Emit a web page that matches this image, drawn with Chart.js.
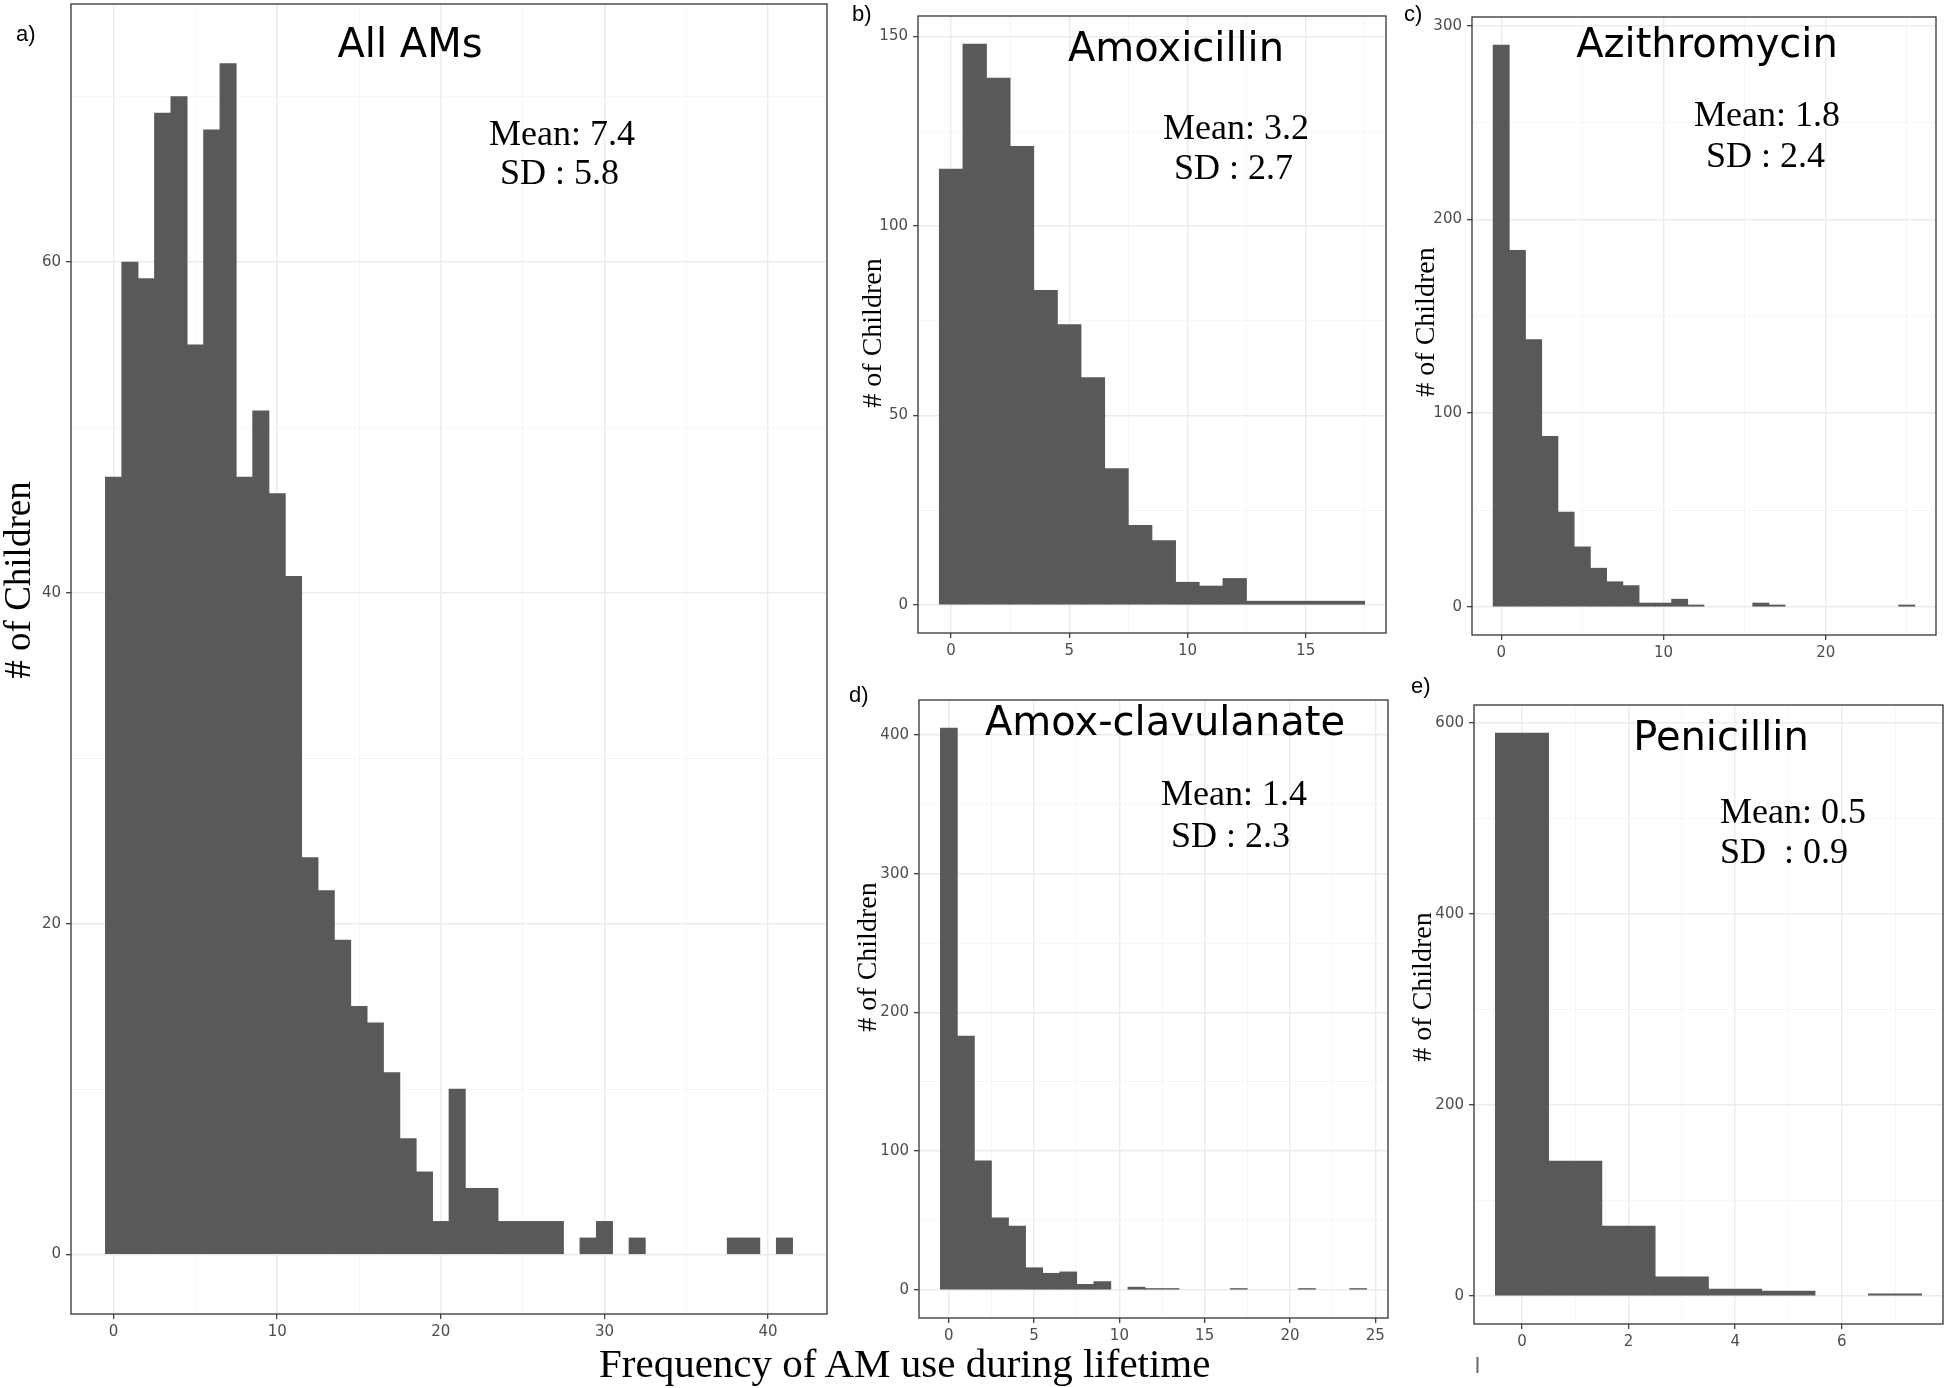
<!DOCTYPE html>
<html><head><meta charset="utf-8">
<script src="https://cdn.jsdelivr.net/npm/chart.js@4.4.1/dist/chart.umd.min.js"></script>
<style>
html,body{margin:0;padding:0;background:#fff;width:1946px;height:1388px;overflow:hidden;position:relative}
canvas{position:absolute}
svg{position:absolute;left:0;top:0}
.ttl{font-family:"DejaVu Sans";font-size:40px;fill:#000}
.stat{font-family:"Liberation Serif";font-size:36px;fill:#000;white-space:pre}
.ylab{font-family:"Liberation Serif";font-size:28px;fill:#000}
.let{font-family:"Liberation Sans";font-size:22px;fill:#000}
</style></head><body>
<script>
// ---- data (counts per integer bin, starting at 0) ----
const countsAll   = [47,60,59,69,70,55,68,72,47,51,46,41,24,22,19,15,14,11,7,5,2,10,4,4,2,2,2,2,0,1,2,0,1,0,0,0,0,0,1,1,0,1];
const countsAmox  = [115,148,139,121,83,74,60,36,21,17,6,5,7,1,1,1,1,1];
const countsAzi   = [290,184,138,88,49,31,20,13,11,2,2,4,1,0,0,0,2,1,0,0,0,0,0,0,0,1];
const countsAmoxC = [405,183,93,52,46,16,12,13,4,6,0,2,1,1,0,0,0,1,0,0,0,1,0,0,1];
const countsPen   = [589,141,73,20,7,5,0,2];

// ---- tick labels ----
const xMajorAll = [0,10,20,30,40],          xMinorAll = [5,15,25,35];
const yMajorAll = [0,20,40,60],             yMinorAll = [10,30,50,70];
const xMajorAmox = [0,5,10,15],             xMinorAmox = [2.5,7.5,12.5,17.5];
const yMajorAmox = [0,50,100,150],          yMinorAmox = [25,75,125];
const xMajorAzi = [0,10,20],                xMinorAzi = [5,15,25];
const yMajorAzi = [0,100,200,300],          yMinorAzi = [50,150,250];
const xMajorAmoxC = [0,5,10,15,20,25],      xMinorAmoxC = [2.5,7.5,12.5,17.5,22.5];
const yMajorAmoxC = [0,100,200,300,400],    yMinorAmoxC = [50,150,250,350];
const xMajorPen = [0,2,4,6],                xMinorPen = [1,3,5,7];
const yMajorPen = [0,200,400,600],          yMinorPen = [100,300,500];

const BAR = '#595959';
const YW = 70, PT = 20, PR = 12, XH = 40;

const framePlugin = {
  id: 'frame',
  afterDraw(chart) {
    const {ctx, chartArea: a} = chart;
    ctx.save();
    ctx.strokeStyle = '#333333';
    ctx.lineWidth = 1.3;
    ctx.strokeRect(a.left, a.top, a.right - a.left, a.bottom - a.top);
    ctx.restore();
  }
};

function axisOpts(min, max, major, minor, isX) {
  const all = major.concat(minor).sort((p, q) => p - q);
  return {
    type: 'linear', min: min, max: max, offset: false,
    afterBuildTicks: s => { s.ticks = all.map(v => ({value: v})); },
    afterFit: s => { if (isX) s.height = XH; else s.width = YW; },
    ticks: {
      autoSkip: false, maxRotation: 0, minRotation: 0,
      callback: v => major.includes(v) ? String(v) : '',
      font: {family: 'DejaVu Sans', size: 15}, color: '#4D4D4D', padding: isX ? 4 : 5
    },
    grid: {
      offset: false,
      color: c => major.includes(c.tick.value) ? '#EBEBEB' : '#F4F4F4',
      lineWidth: c => major.includes(c.tick.value) ? 1.4 : 0.8,
      tickColor: c => major.includes(c.tick.value) ? '#333333' : 'rgba(0,0,0,0)',
      tickLength: 5, tickWidth: 1.2
    },
    border: {display: false}
  };
}

function panel(frame, counts, xMajor, xMinor, yMajor, yMinor) {
  const cv = document.createElement('canvas');
  const w = frame.R - frame.L + YW + PR, h = frame.B - frame.T + PT + XH;
  cv.width = w; cv.height = h;
  cv.style.left = (frame.L - YW) + 'px';
  cv.style.top = (frame.T - PT) + 'px';
  cv.style.width = w + 'px'; cv.style.height = h + 'px';
  document.body.appendChild(cv);
  const n = counts.length;
  const xe = 0.05 * n, ymax = Math.max(...counts), ye = 0.05 * ymax;
  new Chart(cv.getContext('2d'), {
    type: 'bar',
    data: {datasets: [{
      data: counts.map((c, i) => ({x: i, y: c})),
      backgroundColor: c => (c.raw && c.raw.y > 0) ? BAR : 'rgba(0,0,0,0)',
      borderWidth: 0,
      barPercentage: 1, categoryPercentage: 1
    }]},
    options: {
      responsive: false, animation: false, devicePixelRatio: 1,
      layout: {padding: {top: PT, right: PR, left: 0, bottom: 0}},
      plugins: {legend: {display: false}, tooltip: {enabled: false}},
      scales: {
        x: axisOpts(-0.5 - xe, n - 0.5 + xe, xMajor, xMinor, true),
        y: axisOpts(-ye, ymax + ye, yMajor, yMinor, false)
      }
    },
    plugins: [framePlugin]
  });
}

panel({L:71,  T:4,   R:827,  B:1314}, countsAll,   xMajorAll,   xMinorAll,   yMajorAll,   yMinorAll);
panel({L:918, T:16,  R:1386, B:633},  countsAmox,  xMajorAmox,  xMinorAmox,  yMajorAmox,  yMinorAmox);
panel({L:1472,T:17,  R:1936, B:635},  countsAzi,   xMajorAzi,   xMinorAzi,   yMajorAzi,   yMinorAzi);
panel({L:919, T:700, R:1388, B:1318}, countsAmoxC, xMajorAmoxC, xMinorAmoxC, yMajorAmoxC, yMinorAmoxC);
panel({L:1474,T:705, R:1943, B:1324}, countsPen,   xMajorPen,   xMinorPen,   yMajorPen,   yMinorPen);
</script>
<svg width="1946" height="1388" xmlns="http://www.w3.org/2000/svg">
  <!-- panel letters -->
  <text class="let" x="16" y="41">a)</text>
  <text class="let" x="852" y="21">b)</text>
  <text class="let" x="1404" y="21">c)</text>
  <text class="let" x="849" y="702">d)</text>
  <text class="let" x="1411" y="693">e)</text>
  <!-- titles -->
  <text class="ttl" x="410" y="57" text-anchor="middle">All AMs</text>
  <text class="ttl" x="1176" y="61" text-anchor="middle">Amoxicillin</text>
  <text class="ttl" x="1707" y="57" text-anchor="middle">Azithromycin</text>
  <text class="ttl" x="1165" y="735" text-anchor="middle">Amox-clavulanate</text>
  <text class="ttl" x="1721" y="750" text-anchor="middle">Penicillin</text>
  <!-- stats -->
  <text class="stat" x="489" y="145">Mean: 7.4</text>
  <text class="stat" x="500" y="184">SD : 5.8</text>
  <text class="stat" x="1163" y="139">Mean: 3.2</text>
  <text class="stat" x="1174" y="179">SD : 2.7</text>
  <text class="stat" x="1694" y="126">Mean: 1.8</text>
  <text class="stat" x="1706" y="167">SD : 2.4</text>
  <text class="stat" x="1161" y="805">Mean: 1.4</text>
  <text class="stat" x="1171" y="847">SD : 2.3</text>
  <text class="stat" x="1720" y="823">Mean: 0.5</text>
  <text class="stat" x="1720" y="863">SD  : 0.9</text>
  <!-- y-axis titles -->
  <text class="ylab" style="font-size:37px" text-anchor="middle" transform="translate(30,580) rotate(-90)"># of Children</text>
  <text class="ylab" text-anchor="middle" transform="translate(881,333) rotate(-90)"># of Children</text>
  <text class="ylab" text-anchor="middle" transform="translate(1434,322) rotate(-90)"># of Children</text>
  <text class="ylab" text-anchor="middle" transform="translate(876,957) rotate(-90)"># of Children</text>
  <text class="ylab" text-anchor="middle" transform="translate(1431,987) rotate(-90)"># of Children</text>
  <!-- x-axis title -->
  <text class="stat" style="font-size:41px" x="599" y="1377">Frequency of AM use during lifetime</text>
  <text class="let" style="fill:#666" x="1475" y="1373">l</text>
</svg>
</body></html>
